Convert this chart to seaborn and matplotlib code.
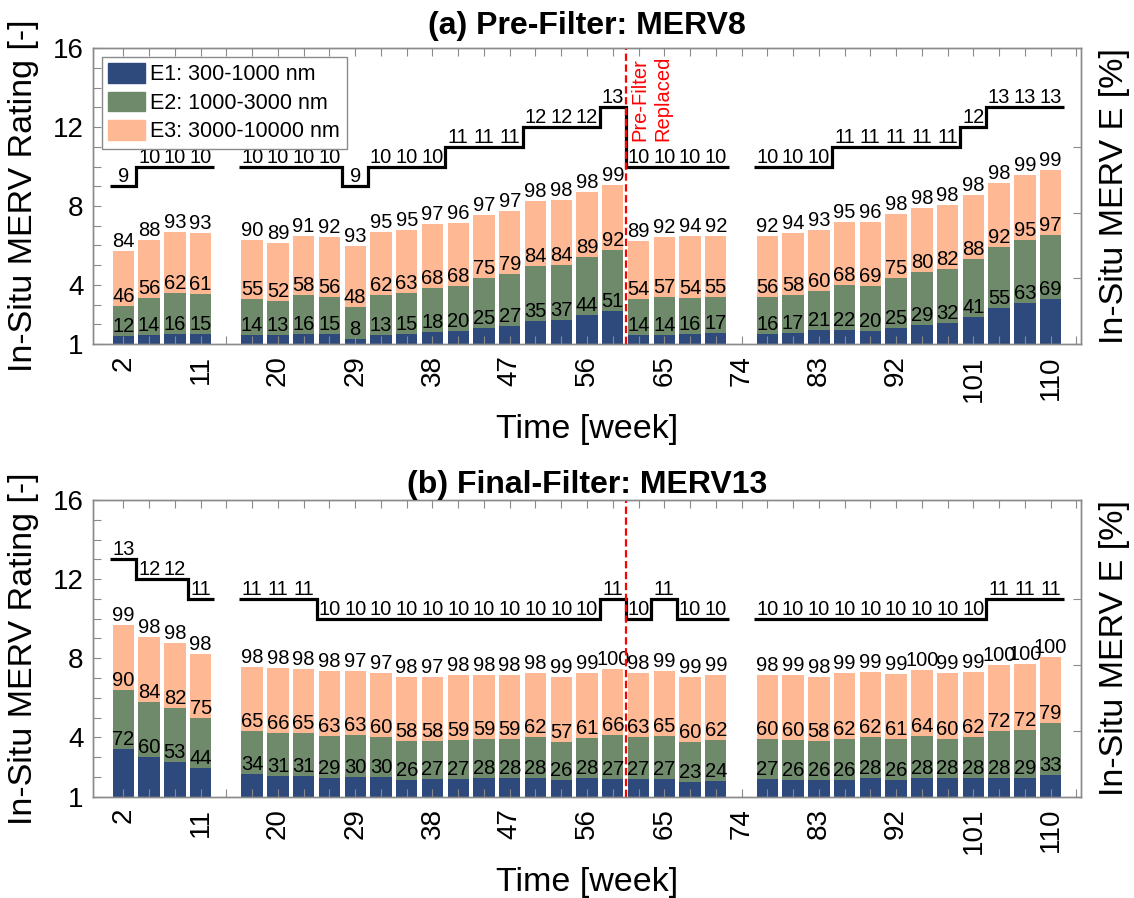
import numpy as np
import pandas as pd
import matplotlib
matplotlib.use("Agg")
import matplotlib.pyplot as plt
import seaborn as sns
from matplotlib.patches import Patch

# ---------------- data ----------------
weeks = [2, 5, 8, 11,
         17, 20, 23, 26, 29, 32, 35, 38, 41, 44, 47, 50, 53, 56, 59,
         62, 65, 68, 71,
         77, 80, 83, 86, 89, 92, 95, 98, 101, 104, 107, 110]
segments = [(0, 4), (4, 23), (23, 35)]   # contiguous runs of the MERV step line
tick_weeks = [2, 11, 20, 29, 38, 47, 56, 65, 74, 83, 92, 101, 110]
replace_week = 60.5

a_E1 = [12, 14, 16, 15,
        14, 13, 16, 15, 8, 13, 15, 18, 20, 25, 27, 35, 37, 44, 51,
        14, 14, 16, 17,
        16, 17, 21, 22, 20, 25, 29, 32, 41, 55, 63, 69]
a_E2 = [46, 56, 62, 61,
        55, 52, 58, 56, 48, 62, 63, 68, 68, 75, 79, 84, 84, 89, 92,
        54, 57, 54, 55,
        56, 58, 60, 68, 69, 75, 80, 82, 88, 92, 95, 97]
a_E3 = [84, 88, 93, 93,
        90, 89, 91, 92, 93, 95, 95, 97, 96, 97, 97, 98, 98, 98, 99,
        89, 92, 94, 92,
        92, 94, 93, 95, 96, 98, 98, 98, 98, 98, 99, 99]
a_merv = [9, 10, 10, 10,
          10, 10, 10, 10, 9, 10, 10, 10, 11, 11, 11, 12, 12, 12, 13,
          10, 10, 10, 10,
          10, 10, 10, 11, 11, 11, 11, 11, 12, 13, 13, 13]

b_E1 = [72, 60, 53, 44,
        34, 31, 31, 29, 30, 30, 26, 27, 27, 28, 28, 28, 26, 28, 27,
        27, 27, 23, 24,
        27, 26, 26, 26, 28, 26, 28, 28, 28, 28, 29, 33]
b_E2 = [90, 84, 82, 75,
        65, 66, 65, 63, 63, 60, 58, 58, 59, 59, 59, 62, 57, 61, 66,
        63, 65, 60, 62,
        60, 60, 58, 62, 62, 61, 64, 60, 62, 72, 72, 79]
b_E3 = [99, 98, 98, 98,
        98, 98, 98, 98, 97, 97, 98, 97, 98, 98, 98, 98, 99, 99, 100,
        98, 99, 99, 99,
        98, 99, 98, 99, 99, 99, 100, 99, 99, 100, 100, 100]
b_merv = [13, 12, 12, 11,
          11, 11, 11, 10, 10, 10, 10, 10, 10, 10, 10, 10, 10, 10, 11,
          10, 11, 10, 10,
          10, 10, 10, 10, 10, 10, 10, 10, 10, 11, 11, 11]

legend_labels = ["E1: 300-1000 nm", "E2: 1000-3000 nm", "E3: 3000-10000 nm"]
titles = ["(a) Pre-Filter: MERV8", "(b) Final-Filter: MERV13"]

C1, C2, C3 = "#2e4a7d", "#6f8a6b", "#ffb894"
GREY = "#8a8a8a"

# ---------------- style ----------------
sns.set_style("ticks")
plt.rcParams["font.family"] = ["Liberation Sans", "DejaVu Sans"]
plt.rcParams["axes.edgecolor"] = GREY
plt.rcParams["axes.linewidth"] = 1.0
plt.rcParams["text.color"] = "black"
plt.rcParams["axes.labelcolor"] = "black"
plt.rcParams["axes.titlecolor"] = "black"

fig = plt.figure(figsize=(11.34, 8.98), dpi=100)
axA = fig.add_axes([0.0823, 0.6169, 0.8707, 0.3293])
axB = fig.add_axes([0.0823, 0.1128, 0.8707, 0.3304])

LBL = 14.5


def panel(ax, E1, E2, E3, merv, title, legend, note, title_pad):
    ax2 = ax.twinx()
    df = pd.DataFrame({"week": weeks, "E1": E1, "E2": E2, "E3": E3})
    df["c1"] = df["E1"]
    df["c2"] = df["E1"] + df["E2"]
    df["c3"] = df["c2"] + df["E3"]
    for col, colr in [("c3", C3), ("c2", C2), ("c1", C1)]:
        sns.barplot(data=df, x="week", y=col, native_scale=True, orient="v",
                    width=0.83, color=colr, saturation=1, linewidth=0,
                    errorbar=None, ax=ax2)
    for w, c1, c2, c3, e1, e2, e3 in zip(df.week, df.c1, df.c2, df.c3,
                                         df.E1, df.E2, df.E3):
        for yv, t in [(c1, e1), (c2, e2), (c3, e3)]:
            ax2.text(w, yv, str(t), ha="center", va="bottom", fontsize=LBL,
                     color="black")
    ax2.set_ylim(0, 450)
    ax2.set_yticks([0, 100, 200, 300])
    ax2.set_yticklabels([])
    ax2.tick_params(axis="y", direction="in", length=6, width=0.8, color=GREY)
    ax2.set_ylabel("In-Situ MERV E [%]", fontsize=24.5, labelpad=10)
    for sp in ax2.spines.values():
        sp.set_color(GREY)

    # ax on top of the bars
    ax.set_zorder(ax2.get_zorder() + 1)
    ax.patch.set_visible(False)

    w_arr = np.array(weeks, dtype=float)
    m_arr = np.array(merv, dtype=float)
    for s, e in segments:
        ww = w_arr[s:e]
        edges = np.r_[ww - 1.5, ww[-1] + 1.5]
        ax.stairs(m_arr[s:e], edges, baseline=None, color="black", lw=2.3)
    for w, m in zip(weeks, merv):
        ax.text(w, m, str(m), ha="center", va="bottom", fontsize=LBL)

    ax.axvline(replace_week, color="red", lw=1.6, ls=(0, (3.3, 1.6)))
    if note:
        ax.text(replace_week + 0.6, 11.3, note, rotation=90, color="red",
                fontsize=14.5, ha="left", va="bottom", multialignment="left",
                linespacing=1.25)

    ax.set_xlim(-1.5, 113.5)
    ax.set_ylim(1, 16)
    ax.set_xticks(tick_weeks)
    ax.set_xticklabels([str(t) for t in tick_weeks], rotation=90)
    minor = [w for w in range(5, 114, 3) if w not in tick_weeks]
    ax.set_xticks(minor, minor=True)
    ax.set_yticks([1, 4, 8, 12, 16])
    ax.set_yticks(range(1, 17), minor=True)
    ax.tick_params(axis="both", which="both", direction="in", length=6,
                   width=0.8, color=GREY, labelsize=20, labelcolor="black")
    ax.tick_params(axis="x", which="both", top=True, pad=8)
    ax.tick_params(axis="y", which="both", right=False, pad=7)
    ax.set_xlabel("Time [week]", fontsize=24.5, labelpad=9)
    ax.set_ylabel("In-Situ MERV Rating [-]", fontsize=24.5, labelpad=10)
    ax.set_title(title, fontweight="bold", fontsize=23, pad=title_pad,
                 color="black")
    for sp in ax.spines.values():
        sp.set_color(GREY)

    if legend:
        handles = [Patch(facecolor=c, edgecolor=c) for c in (C1, C2, C3)]
        leg = ax.legend(handles, legend_labels, loc="upper left",
                        fontsize=15.5, frameon=True, fancybox=False,
                        edgecolor=GREY, framealpha=1, borderaxespad=0.4,
                        handlelength=1.7, handleheight=1.0,
                        handletextpad=0.25, labelspacing=0.3,
                        borderpad=0.3)
        leg.get_frame().set_linewidth(1.0)
        for t in leg.get_texts():
            t.set_color("black")


panel(axA, a_E1, a_E2, a_E3, a_merv, titles[0], True, "Pre-Filter\nReplaced", 10)
panel(axB, b_E1, b_E2, b_E3, b_merv, titles[1], False, None, 5)

fig.savefig("out.png", dpi=100)
